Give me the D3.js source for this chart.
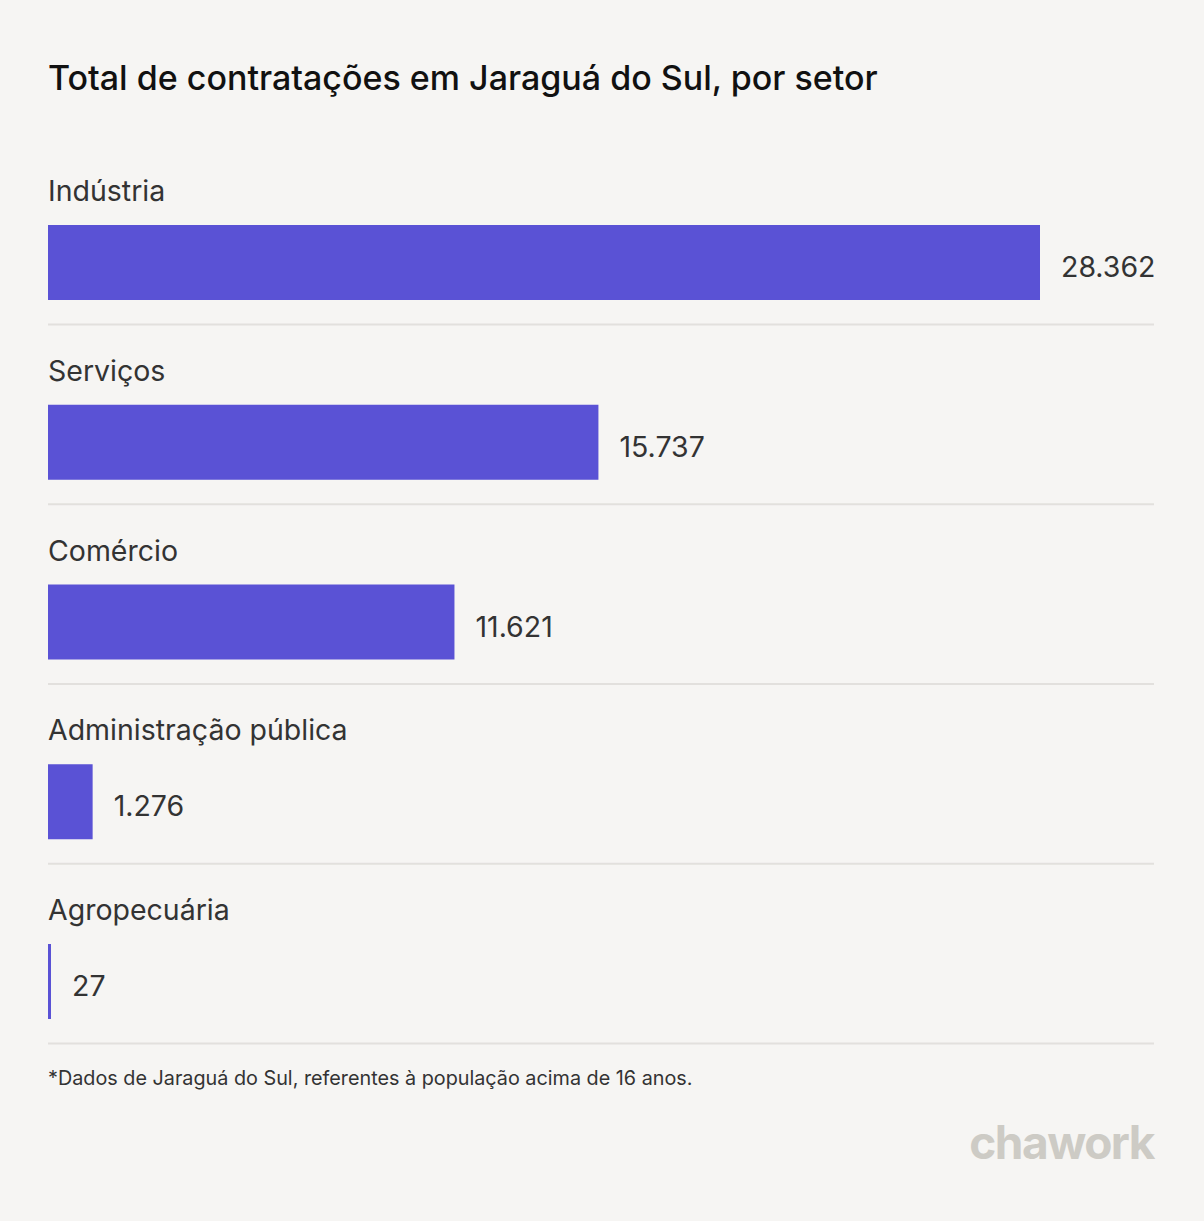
<!DOCTYPE html>
<html><head><meta charset="utf-8">
<script src="https://cdn.jsdelivr.net/npm/d3@7"></script>
<style>
html,body{margin:0;padding:0;background:#f6f5f3;}
svg{display:block;font-family:Inter,"Noto Sans",sans-serif;}
</style></head>
<body>
<svg id="chart" width="1204" height="1221"></svg>
<script>
const categories = ["Indústria","Serviços","Comércio","Administração pública","Agropecuária"];
const values = [28362, 15737, 11621, 1276, 27];
const title = "Total de contratações em Jaraguá do Sul, por setor";
const footnote = "*Dados de Jaraguá do Sul, referentes à população acima de 16 anos.";

const svg = d3.select("#chart");
svg.append("rect").attr("width",1204).attr("height",1221).attr("fill","#f6f5f3");

const locale = d3.formatLocale({decimal:",", thousands:".", grouping:[3], currency:["R$",""]});
const fmt = locale.format(",d");

const x = d3.scaleLinear().domain([0, d3.max(values)]).range([48, 1040]);
const y = d3.scaleBand().domain(categories).range([145, 145 + 5*179.75]);

svg.append("text").attr("x",48).attr("y",90).attr("font-size",34).attr("font-weight",500)
  .attr("fill","#111").text(title);

const rows = svg.selectAll("g.row").data(categories.map((c,i)=>({c, v:values[i]}))).join("g")
  .attr("class","row").attr("transform", d=>`translate(0,${y(d.c)})`);

rows.append("text").attr("x",48).attr("y",56).attr("font-size",28.5).attr("fill","#333")
  .text(d=>d.c);

rows.append("rect").attr("x",48).attr("y",80).attr("height",75)
  .attr("width", d=>Math.max(3, x(d.v)-x(0))).attr("fill","#5a52d5");

rows.append("text").attr("x", d=>48 + Math.max(3, x(d.v)-x(0)) + 21).attr("y",121.5)
  .attr("dominant-baseline","central").attr("font-size",28.5).attr("fill","#333")
  .text(d=>fmt(d.v));

rows.append("line").attr("x1",48).attr("x2",1154).attr("y1",179.5).attr("y2",179.5)
  .attr("stroke","#e2e0dd").attr("stroke-width",2);

svg.append("text").attr("x",48).attr("y",1085).attr("font-size",19.8).attr("fill","#333")
  .text(footnote);

svg.append("text").attr("x",1154).attr("y",1159).attr("text-anchor","end")
  .attr("font-size",46).attr("font-weight",700).attr("letter-spacing",-1.5)
  .attr("fill","#cdcbc5").text("chawork");
</script>
</body></html>
